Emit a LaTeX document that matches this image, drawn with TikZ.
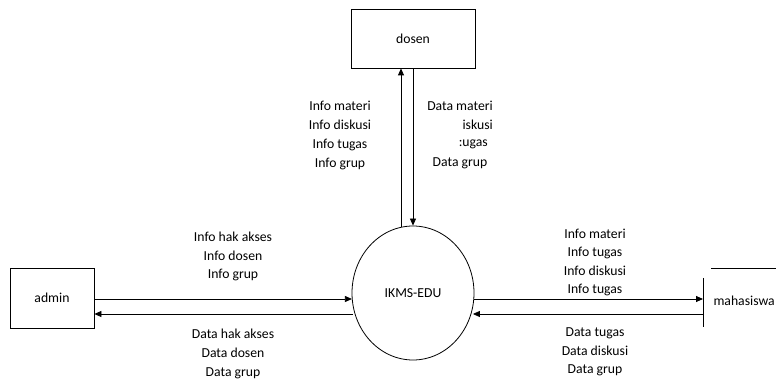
\documentclass[tikz,border=0pt]{standalone}
\usepackage{fontspec}
\setmainfont{Carlito}
\usetikzlibrary{arrows.meta,shapes.geometric,calc}
\tikzset{
  ent/.style={draw,thick,rectangle,inner sep=0pt,font=\lbl},
  proc/.style={draw,thick,ellipse,inner sep=0pt,minimum width=122pt,minimum height=134pt,font=\lbl},
  flow/.style={thick,-{Triangle[length=7pt,width=6pt]}},
  lbl/.style={align=center,inner sep=0pt,font=\lbl}
}
\newcommand{\lbl}{\fontsize{13.7}{18.6}\selectfont}
\begin{document}
\begin{tikzpicture}[x=1pt,y=-1pt]
\useasboundingbox (0,0) rectangle (776,379);
\fill[white] (0,0) rectangle (776,379);
\node[ent,minimum width=124pt,minimum height=59pt] (dosen) at (413,38.5) {dosen};
\node[ent,minimum width=84pt,minimum height=60pt] (admin) at (52,298) {admin};
\node[proc] (ikms) at (413,293) {IKMS-EDU};
\node[inner sep=0pt,font=\lbl,anchor=east] (mhs) at (775,301) {mahasiswa};
\coordinate (mtl) at (703,278);
\coordinate (mbl) at (703,327);
\coordinate (mtop1) at (711,268);
\coordinate (mtop2) at (776,268);
\draw[thick] (mtl) -- (mbl);
\draw[thick] (mtop1) -- (mtop2);
% admin <-> ikms
\draw[flow] ($(admin.east)+(0,1)$) -- ($(ikms.west)+(0.3,6)$);
\draw[flow] ($(ikms.west)+(1.5,21)$) -- ($(admin.east)+(0,16)$);
% ikms <-> mahasiswa
\draw[flow] ($(ikms.east)+(-0.3,6)$) -- ($(mtl)+(0,21)$);
\draw[flow] ($(mtl)+(0,36)$) -- ($(ikms.east)+(-1.5,21)$);
% dosen <-> ikms
\draw[flow] ($(ikms.north)+(-12,1.3)$) -- ($(dosen.south)+(-12,0)$);
\draw[flow] (dosen.south) -- (ikms.north);
% labels
\node[lbl] (l1) at (233,256.5) {Info hak akses\\Info dosen\\Info grup};
\node[lbl] (l2) at (233,354) {Data hak akses\\Data dosen\\Data grup};
\node[lbl] (l3) at (595,262.5) {Info materi\\Info tugas\\Info diskusi\\Info tugas};
\node[lbl] (l4) at (595,352) {Data tugas\\Data diskusi\\Data grup};
\node[lbl,font=\fontsize{13.7}{19}\selectfont] (l5) at (340,135) {Info materi\\Info diskusi\\Info tugas\\Info grup};
\node[lbl] (d1) at (460,106) {Data materi};
\node[lbl,anchor=east] (d2) at (493,125) {iskusi};
\node[lbl,anchor=east] (d3) at (488,144) {:ugas};
\node[lbl] (d4) at (460,163) {Data grup};
\end{tikzpicture}
\end{document}
